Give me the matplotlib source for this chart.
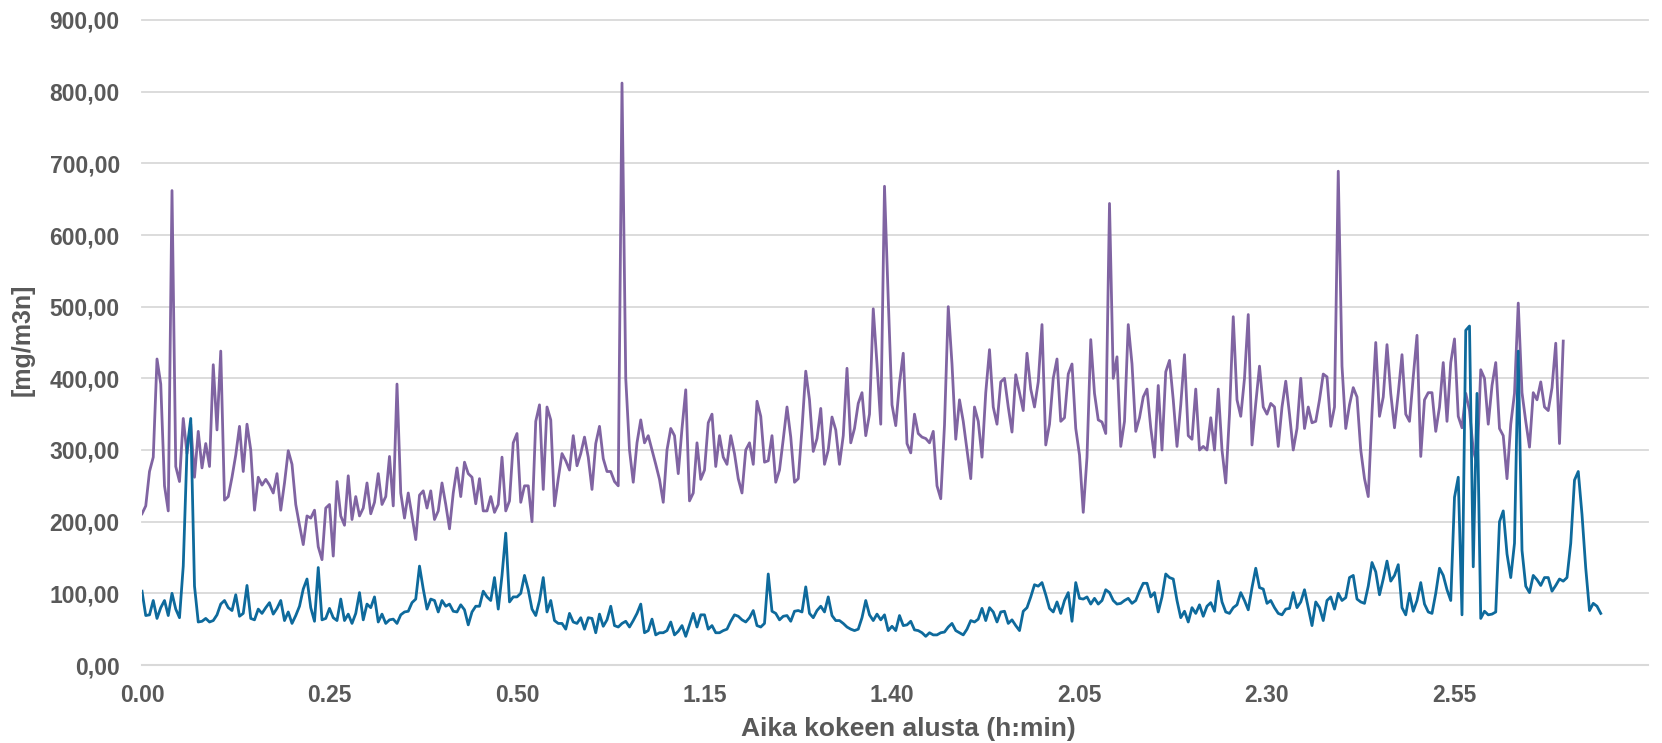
import numpy as np
import matplotlib
matplotlib.use("Agg")
import matplotlib.pyplot as plt

# Sampling interval of the logged concentrations (minutes)
STEP_MIN = 0.5

# Purple series [mg/m3n], one value per half minute from the start of the test
purple = [
    211, 222, 270, 290, 427, 392, 250, 215, 662, 277,
    256, 344, 295, 336, 262, 326, 275, 309, 277, 419,
    328, 438, 230, 235, 262, 293, 333, 270, 336, 300,
    216, 262, 251, 259, 251, 240, 267, 216, 254, 299,
    280, 224, 195, 168, 208, 205, 216, 165, 147, 219,
    224, 152, 256, 208, 195, 264, 203, 235, 208, 219,
    254, 211, 227, 267, 224, 235, 291, 222, 392, 240,
    205, 240, 208, 175, 237, 243, 219, 243, 203, 215,
    254, 224, 190, 240, 275, 235, 283, 267, 262, 225,
    260, 215, 215, 235, 213, 224, 290, 215, 229, 310,
    323, 227, 250, 250, 200, 340, 363, 245, 360, 342,
    222, 260, 295, 285, 272, 320, 278, 295, 318, 290,
    245, 309, 333, 288, 270, 270, 256, 250, 812, 400,
    300, 255, 310, 342, 310, 320, 300, 280, 259, 227,
    300, 330, 320, 267, 330, 384, 229, 240, 310, 259,
    272, 338, 350, 277, 320, 290, 280, 320, 295, 260,
    240, 300, 310, 280, 368, 347, 283, 285, 320, 255,
    272, 315, 360, 318, 255, 260, 330, 410, 370, 298,
    316, 358, 280, 300, 346, 328, 280, 320, 414, 310,
    330, 365, 380, 320, 350, 497, 420, 336, 668, 510,
    363, 334, 393, 435, 309, 296, 350, 323, 318, 316,
    310, 326, 250, 232, 335, 500, 420, 315, 370, 340,
    300, 260, 360, 340, 290, 380, 440, 360, 336, 395,
    400, 360, 325, 405, 380, 355, 435, 385, 360, 395,
    475, 307, 336, 400, 427, 340, 345, 406, 420, 330,
    293, 213, 290, 454, 379, 342, 339, 323, 644, 400,
    430, 305, 340, 475, 420, 326, 345, 374, 385, 331,
    290, 390, 300, 409, 425, 370, 305, 363, 433, 320,
    315, 385, 300, 305, 300, 345, 300, 385, 300, 254,
    350, 486, 370, 347, 400, 489, 307, 365, 417, 360,
    350, 365, 360, 305, 360, 396, 350, 300, 330, 400,
    330, 360, 338, 340, 370, 406, 402, 333, 360, 689,
    417, 330, 363, 387, 374, 300, 260, 235, 352, 450,
    347, 374, 447, 379, 331, 379, 433, 350, 340, 402,
    460, 291, 370, 380, 380, 326, 360, 422, 340, 422,
    455, 347, 331, 379, 355, 300, 280, 412, 400, 336,
    390, 422, 330, 320, 260, 336, 379, 505, 380, 340,
    304, 380, 370, 395, 360, 355, 387, 449, 309, 452,
]

# Blue series [mg/m3n], same sampling
blue = [
    103, 69, 70, 90, 65, 80, 90, 69, 100, 78,
    66, 138, 300, 344, 110, 60, 61, 65, 60, 62,
    70, 85, 90, 80, 76, 98, 68, 72, 111, 65,
    63, 78, 72, 80, 87, 71, 79, 90, 62, 74,
    58, 69, 82, 106, 120, 80, 61, 136, 63, 65,
    79, 66, 62, 92, 62, 71, 58, 72, 101, 63,
    85, 80, 95, 60, 71, 58, 63, 64, 58, 70,
    74, 75, 87, 92, 138, 106, 78, 92, 90, 74,
    90, 82, 85, 75, 74, 84, 77, 56, 74, 82,
    82, 103, 95, 90, 122, 78, 125, 184, 88, 95,
    95, 100, 125, 105, 78, 69, 90, 122, 74, 90,
    62, 58, 58, 50, 72, 60, 58, 66, 50, 66,
    65, 45, 71, 54, 63, 82, 55, 53, 58, 61,
    53, 62, 72, 85, 45, 48, 64, 42, 45, 45,
    48, 60, 42, 47, 55, 40, 56, 72, 53, 70,
    70, 50, 55, 45, 45, 48, 50, 61, 70, 68,
    63, 60, 66, 76, 55, 53, 58, 127, 75, 72,
    63, 68, 69, 61, 75, 76, 74, 109, 72, 66,
    76, 82, 74, 95, 69, 62, 62, 58, 53, 50,
    48, 50, 66, 90, 70, 62, 71, 63, 70, 48,
    54, 48, 69, 55, 56, 61, 49, 48, 45, 40,
    45, 42, 42, 45, 46, 53, 58, 48, 45, 42,
    50, 62, 60, 64, 79, 62, 80, 74, 60, 74,
    75, 58, 63, 55, 48, 75, 80, 95, 112, 110,
    115, 98, 79, 74, 88, 72, 90, 101, 61, 115,
    93, 92, 95, 85, 93, 85, 90, 105, 101, 90,
    85, 86, 90, 93, 86, 90, 103, 114, 114, 95,
    101, 74, 95, 127, 122, 120, 90, 66, 75, 60,
    80, 72, 84, 68, 82, 87, 75, 117, 88, 74,
    72, 80, 84, 101, 90, 77, 108, 135, 108, 106,
    86, 90, 80, 72, 70, 78, 79, 101, 80, 88,
    105, 80, 55, 88, 80, 62, 90, 95, 78, 100,
    90, 94, 122, 125, 92, 88, 86, 110, 143, 130,
    98, 120, 145, 117, 125, 140, 80, 70, 100, 75,
    90, 115, 85, 74, 72, 100, 135, 125, 105, 90,
    234, 262, 70, 467, 473, 137, 379, 65, 75, 70,
    71, 74, 200, 215, 155, 122, 170, 438, 160, 110,
    101, 125, 119, 111, 122, 122, 103, 111, 120, 117,
    122, 170, 258, 270, 210, 135, 76, 86, 82, 72,
]

# Category labels on the time axis (h.mm), one every 25 minutes
x_tick_minutes = [0, 25, 50, 75, 100, 125, 150, 175]
x_tick_labels = ["0.00", "0.25", "0.50", "1.15", "1.40", "2.05", "2.30", "2.55"]
y_ticks = [0, 100, 200, 300, 400, 500, 600, 700, 800, 900]

X_END_MIN = 200.8

TEXT_COLOR = "#595959"
GRID_COLOR = "#D9D9D9"
PURPLE = "#8064A2"
BLUE = "#0E6A9C"

plt.rcParams["font.family"] = ["Liberation Sans", "DejaVu Sans"]

W, H = 1662, 743
fig = plt.figure(figsize=(W / 100, H / 100), dpi=100)
left, right, top, bottom = 142, 1648, 20, 665
ax = fig.add_axes([left / W, 1 - bottom / H, (right - left) / W, (bottom - top) / H])

t_purple = np.arange(len(purple)) * STEP_MIN
t_blue = np.arange(len(blue)) * STEP_MIN

ax.plot(t_purple, purple, color=PURPLE, lw=2.0, solid_joinstyle="round", zorder=3)
ax.plot(t_blue, blue, color=BLUE, lw=2.0, solid_joinstyle="round", zorder=4)

ax.set_xlim(0, X_END_MIN)
ax.set_ylim(0, 900)

ax.set_yticks(y_ticks)
ax.set_yticklabels([f"{v:.2f}".replace(".", ",") for v in y_ticks])
ax.set_xticks(x_tick_minutes)
ax.set_xticklabels(x_tick_labels)

for lbl in ax.get_xticklabels() + ax.get_yticklabels():
    lbl.set_fontweight("bold")
    lbl.set_fontsize(16.5)
    lbl.set_color(TEXT_COLOR)

ax.tick_params(axis="y", length=0, pad=16)
ax.tick_params(axis="x", length=0, pad=14)

ax.yaxis.grid(True, color=GRID_COLOR, lw=1.3)
ax.xaxis.grid(False)
for gl in ax.get_ygridlines():
    gl.set_clip_on(False)
ax.set_axisbelow(True)

for side in ("top", "right", "left"):
    ax.spines[side].set_visible(False)
ax.spines["bottom"].set_color(GRID_COLOR)
ax.spines["bottom"].set_linewidth(1.5)

fig.text(908 / W, 1 - 729 / H, "Aika kokeen alusta (h:min)", ha="center", va="center",
         fontsize=19, fontweight="bold", color=TEXT_COLOR)
fig.text(23 / W, 1 - 340 / H, "[mg/m3n]", ha="center", va="center", rotation=90,
         fontsize=18, fontweight="bold", color=TEXT_COLOR)

fig.savefig("out.png", dpi=100, facecolor="white")
